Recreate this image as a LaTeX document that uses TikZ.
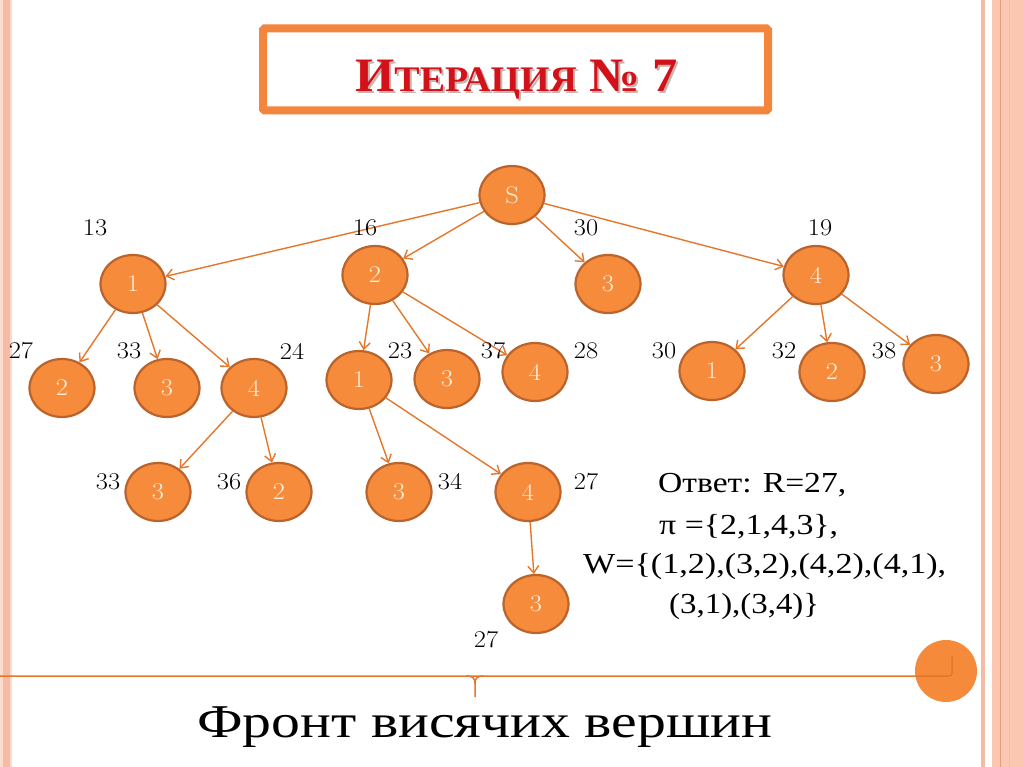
\documentclass[tikz,border=0pt]{standalone}
\usepackage{fontspec}
\usepackage{graphicx}
\usetikzlibrary{shapes.geometric,arrows.meta}
\newfontfamily\tnr{Liberation Serif}
\definecolor{nodefill}{HTML}{F58B3B}
\definecolor{nodeedge}{HTML}{BA632C}
\definecolor{edgecol}{HTML}{E5772C}
\definecolor{boxcol}{HTML}{F4853D}
\definecolor{titlered}{HTML}{D3111B}
\definecolor{titleshadow}{HTML}{C4B6AF}
\definecolor{labtext}{HTML}{FFF0DA}
\definecolor{stripe}{HTML}{F6BBA3}
\definecolor{stripelight}{HTML}{FBDCCF}
\definecolor{stripedark}{HTML}{E49C7E}
\definecolor{rightfill}{HTML}{FBC7B1}
\definecolor{circfill}{HTML}{F68A3B}
\newcommand{\hstr}[1]{\scalebox{1.1}[1]{#1}}
\newcommand{\titletext}{\resizebox{323pt}{\height}{\tnr\bfseries{\fontsize{48}{48}\selectfont И}{\fontsize{36}{36}\selectfont ТЕРАЦИЯ}{\fontsize{48}{48}\selectfont\ № 7}}}
\begin{document}
\begin{tikzpicture}[x=1pt,y=-1pt,
  vtx/.style={ellipse, draw=nodeedge, line width=2.2pt, fill=nodefill,
    minimum width=65pt, minimum height=58pt, inner sep=0pt, text=labtext,
    font=\fontsize{24}{24}\selectfont},
  arc/.style={draw=edgecol, line width=1.4pt, -{Straight Barb[length=7pt,width=11pt]}},
  wt/.style={inner sep=0pt, font=\fontsize{24}{24}\selectfont},
  ans/.style={inner sep=0pt, anchor=base west, font=\tnr\fontsize{29}{29}\selectfont}
]
\useasboundingbox (0,0) rectangle (1024,767);
\fill[white] (0,0) rectangle (1024,767);
% side stripes
\fill[stripelight] (0,0) rectangle (3,767);
\fill[stripe] (3,0) rectangle (10,767);
\fill[stripelight] (10,0) rectangle (12,767);
\fill[stripe] (981,0) rectangle (985,767);
\fill[rightfill] (992,0) rectangle (1024,767);
\draw[stripedark, line width=0.8pt] (1000,0) -- (1000,767);
\draw[stripe, line width=0.8pt] (1009,0) -- (1009,767);
% title box
\draw[boxcol, line width=8pt, rounded corners=1.5pt] (263,28.5) rectangle (768,110.5);
\node[inner sep=0pt, anchor=base west, text=titlered] (title) at (355,92)
  {\makebox[0pt][l]{\raisebox{-2pt}{\hspace{2pt}\color{titleshadow}\titletext}}\titletext};
% bottom decoration
\fill[circfill] (946,671) circle (31);
\draw[edgecol, line width=1.5pt] (0,676) -- (949,676) to[out=0,in=-90] (952,673) -- (952,656);
\draw[edgecol, line width=1.5pt] (466,676) .. controls (473,676) and (475,678) .. (475,684) -- (475,697);
\draw[edgecol, line width=1.5pt] (484,676) .. controls (477,676) and (475,678) .. (475,684);
% nodes
\node[vtx] (s) at (512,195) {\hstr{S}};
\node[vtx] (a1) at (133,284) {\hstr{1}};
\node[vtx] (a2) at (375,275) {\hstr{2}};
\node[vtx] (a3) at (608,284) {\hstr{3}};
\node[vtx] (a4) at (816,275) {\hstr{4}};
\node[vtx] (b12) at (62,388) {\hstr{2}};
\node[vtx] (b13) at (167,388) {\hstr{3}};
\node[vtx] (b14) at (254,388) {\hstr{4}};
\node[vtx] (b21) at (359,380) {\hstr{1}};
\node[vtx] (b23) at (447,379) {\hstr{3}};
\node[vtx] (b24) at (535,372) {\hstr{4}};
\node[vtx] (b41) at (712,371) {\hstr{1}};
\node[vtx] (b42) at (832,372) {\hstr{2}};
\node[vtx] (b43) at (936,364) {\hstr{3}};
\node[vtx] (c143) at (158,492) {\hstr{3}};
\node[vtx] (c142) at (279,492) {\hstr{2}};
\node[vtx] (c213) at (399,492) {\hstr{3}};
\node[vtx] (c214) at (528,492) {\hstr{4}};
\node[vtx] (d) at (536,604) {\hstr{3}};
% edges
\foreach \u/\v in {s/a1,s/a2,s/a3,s/a4,a1/b12,a1/b13,a1/b14,a2/b21,a2/b23,a2/b24,
  a4/b41,a4/b42,a4/b43,b14/c143,b14/c142,b21/c213,b21/c214,c214/d}
  \draw[arc] (\u) -- (\v);
% weights
\node[wt] (w1) at (95,228) {\hstr{13}};
\node[wt] (w2) at (365,228) {\hstr{16}};
\node[wt] (w3) at (586,228) {\hstr{30}};
\node[wt] (w4) at (820,228) {\hstr{19}};
\node[wt] (w5) at (21,351) {\hstr{27}};
\node[wt] (w6) at (129,351) {\hstr{33}};
\node[wt] (w7) at (292,351) {\hstr{24}};
\node[wt] (w8) at (400,351) {\hstr{23}};
\node[wt] (w9) at (493,351) {\hstr{37}};
\node[wt] (w10) at (586,351) {\hstr{28}};
\node[wt] (w11) at (664,351) {\hstr{30}};
\node[wt] (w12) at (784,351) {\hstr{32}};
\node[wt] (w13) at (884,351) {\hstr{38}};
\node[wt] (w14) at (108,482) {\hstr{33}};
\node[wt] (w15) at (229,482) {\hstr{36}};
\node[wt] (w16) at (450,482) {\hstr{34}};
\node[wt] (w17) at (586,482) {\hstr{27}};
\node[wt] (w18) at (486,640) {\hstr{27}};
% answer
\node[ans] (ans1) at (658,492) {\resizebox{188pt}{\height}{Ответ: R=27,}};
\node[ans] (ans2) at (659,534) {\resizebox{179pt}{\height}{π =\{2,1,4,3\},}};
\node[ans] (ans3) at (583,573) {\resizebox{363pt}{\height}{W=\{(1,2),(3,2),(4,2),(4,1),}};
\node[ans] (ans4) at (669,613) {\resizebox{150pt}{\height}{(3,1),(3,4)\}}};
% bottom title
\node[inner sep=0pt, anchor=base west] (front) at (197,737)
  {\resizebox{575pt}{\height}{\tnr\fontsize{47}{47}\selectfont Фронт висячих вершин}};
\end{tikzpicture}
\end{document}
